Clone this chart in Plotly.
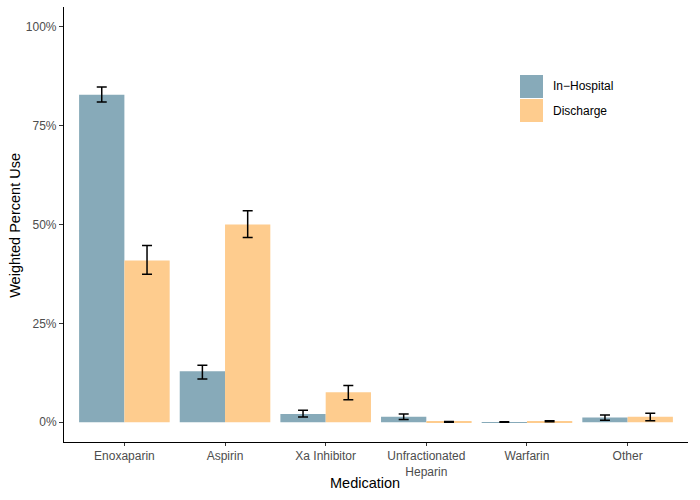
import plotly.graph_objects as go

categories = ["Enoxaparin", "Aspirin", "Xa Inhibitor", "Unfractionated<br>Heparin", "Warfarin", "Other"]
series_names = ["In\u2212Hospital", "Discharge"]
inhosp = [82.8, 12.9, 2.1, 1.4, 0.05, 1.2]
inhosp_hi = [84.8, 14.4, 3.0, 2.1, 0.1, 1.8]
inhosp_lo = [81.0, 10.9, 1.3, 0.7, 0.0, 0.5]
discharge = [40.9, 50.0, 7.6, 0.1, 0.2, 1.4]
discharge_hi = [44.7, 53.5, 9.3, 0.2, 0.35, 2.3]
discharge_lo = [37.4, 46.7, 5.7, 0.0, 0.1, 0.4]
y_ticks = [0, 25, 50, 75, 100]
colors = ["#87AAB9", "#FECC8E"]

fig = go.Figure()
for name, vals, hi, lo, col in [
    (series_names[0], inhosp, inhosp_hi, inhosp_lo, colors[0]),
    (series_names[1], discharge, discharge_hi, discharge_lo, colors[1]),
]:
    fig.add_trace(go.Bar(
        x=categories, y=vals, name=name, marker=dict(color=col, line=dict(width=0)),
        error_y=dict(type="data", symmetric=False,
                     array=[h - v for h, v in zip(hi, vals)],
                     arrayminus=[v - l for v, l in zip(vals, lo)],
                     color="black", thickness=1.5, width=5),
        showlegend=False,
    ))

# manual legend
leg_y = [(0.8437, 0.7908), (0.7885, 0.7356)]
for (y1, y0), col, name in zip(leg_y, colors, series_names):
    fig.add_shape(type="rect", xref="paper", yref="paper", x0=0.7308, x1=0.7676,
                  y0=y0, y1=y1, fillcolor=col, line=dict(width=0))
    fig.add_annotation(xref="paper", yref="paper", x=0.7804, y=(y0 + y1) / 2,
                       text=name, showarrow=False, xanchor="left", yanchor="middle",
                       font=dict(size=12, color="black"))

# axis titles
fig.add_annotation(xref="paper", yref="paper", x=0.482, y=-0.095, text="Medication",
                   showarrow=False, xanchor="center", yanchor="middle",
                   font=dict(size=14.5, color="black"))
fig.add_annotation(xref="paper", yref="paper", x=-0.0785, y=0.497, text="Weighted Percent Use",
                   showarrow=False, xanchor="center", yanchor="middle", textangle=-90,
                   font=dict(size=14.5, color="black"))

font = "Liberation Sans, Arial, sans-serif"
fig.update_layout(
    width=700, height=500,
    margin=dict(l=64, r=12, t=7, b=58, autoexpand=False),
    paper_bgcolor="white", plot_bgcolor="white",
    barmode="group", bargap=0.1, bargroupgap=0,
    font=dict(family=font, color="black"),
    xaxis=dict(
        automargin=False,
        showline=True, linecolor="black", linewidth=1.1,
        ticks="outside", ticklen=3, tickcolor="#333333", tickwidth=1,
        tickfont=dict(size=12, color="#4D4D4D"),
        range=[-0.6, 5.6], showgrid=False, zeroline=False,
    ),
    yaxis=dict(
        automargin=False,
        showline=True, linecolor="black", linewidth=1.1,
        ticks="outside", ticklen=4, tickcolor="#333333", tickwidth=1,
        tickfont=dict(size=12, color="#4D4D4D"),
        tickvals=y_ticks, ticktext=[f"{t}%" for t in y_ticks],
        range=[-5, 105], showgrid=False, zeroline=False,
    ),
)

fig.write_html("out.html", config={"displayModeBar": False},
               post_script="document.body.style.margin='0px';")
